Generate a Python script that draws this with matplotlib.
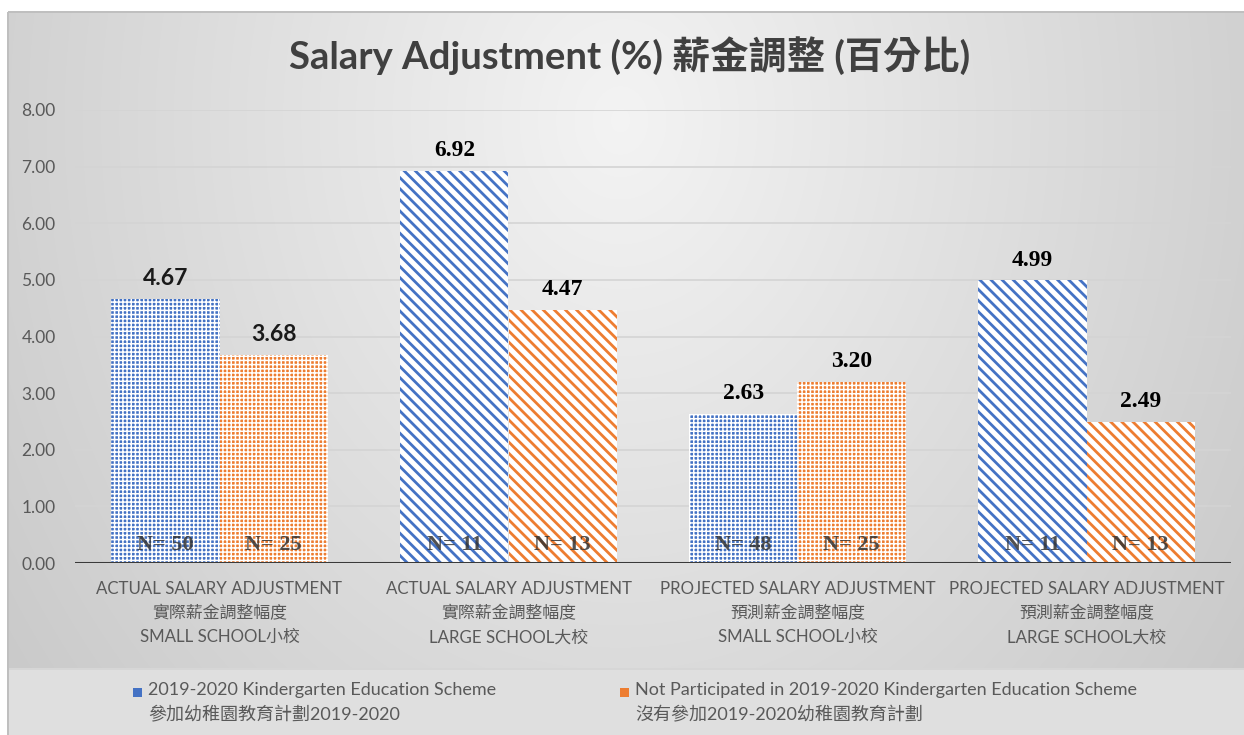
import numpy as np
import matplotlib
matplotlib.use("Agg")
import matplotlib.pyplot as plt
from matplotlib.patches import Rectangle

# ---------------- data ----------------
categories = [
    "ACTUAL SALARY ADJUSTMENT\n實際薪金調整幅度\nSMALL SCHOOL小校",
    "ACTUAL SALARY ADJUSTMENT\n實際薪金調整幅度\nLARGE SCHOOL大校",
    "PROJECTED SALARY ADJUSTMENT\n預測薪金調整幅度\nSMALL SCHOOL小校",
    "PROJECTED SALARY ADJUSTMENT\n預測薪金調整幅度\nLARGE SCHOOL大校",
]
school_size = ["small", "large", "small", "large"]
scheme_values = [4.67, 6.92, 2.63, 4.99]
not_scheme_values = [3.68, 4.47, 3.20, 2.49]
scheme_n = [50, 11, 48, 11]
not_scheme_n = [25, 13, 25, 13]
value_label_sans = [True, False, False, False]  # first group labels look sans
series_names = [
    "2019-2020 Kindergarten Education Scheme\n參加幼稚園教育計劃2019-2020",
    "Not Participated in 2019-2020 Kindergarten Education Scheme\n沒有參加2019-2020幼稚園教育計劃",
]
yticks = [0, 1, 2, 3, 4, 5, 6, 7, 8]
title = "Salary Adjustment (%) 薪金調整 (百分比)"

BLUE = "#4472c4"
ORANGE = "#ed7d31"
SANS = ["Lato", "Noto Sans CJK TC", "DejaVu Sans"]
SERIF = ["Liberation Serif", "DejaVu Serif"]

W, H = 1244, 735
fig = plt.figure(figsize=(W / 100, H / 100), dpi=100)

# ---------------- background (gradient chart area) ----------------
yy, xx = np.mgrid[0:H, 0:W]
r = np.sqrt(((xx - 620) / 650.0) ** 2 + ((yy - 120) / 800.0) ** 2)
v = 0.955 - 0.14 * r
img = np.dstack([v, v, v])
img[yy >= 670] = 0.875
img[(yy >= 668) & (yy < 670)] = 0.84
img[yy < 12] = 1.0
img[:, :8] = 1.0
img[(yy >= 11) & (yy < 13) & (xx >= 8)] = 0.75
img[(xx >= 7) & (xx < 9) & (yy >= 12)] = 0.75
bg = fig.add_axes([0, 0, 1, 1], zorder=-10)
bg.imshow(np.clip(img, 0, 1), extent=[0, W, H, 0], aspect="auto", interpolation="bilinear")
bg.set_xlim(0, W)
bg.set_ylim(H, 0)
bg.axis("off")

# ---------------- main axes ----------------
ax = fig.add_axes([75 / W, (H - 563) / H, (1231 - 75) / W, (563 - 110) / H])
ax.set_facecolor("none")
for s in ax.spines.values():
    s.set_visible(False)

x = np.arange(len(categories))
bw = 0.374


def draw_bar(xpos, val, color, kind):
    if kind == "small":
        hatch, hcol, face, hlw = "++++", "white", color, 1.1
    else:
        hatch, hcol, face, hlw = "\\\\\\", color, "white", 2.0
    with plt.rc_context({"hatch.linewidth": hlw}):
        b = ax.bar(xpos, val, width=bw, color=face, edgecolor=hcol,
                   linewidth=0, hatch=hatch, zorder=3)
    for p in b.patches:
        if hasattr(p, "set_hatch_linewidth"):
            p.set_hatch_linewidth(hlw)
    return b


for i in range(len(categories)):
    xb = x[i] - bw / 2
    xo = x[i] + bw / 2
    draw_bar(xb, scheme_values[i], BLUE, school_size[i])
    draw_bar(xo, not_scheme_values[i], ORANGE, school_size[i])
    for xp, val in ((xb, scheme_values[i]), (xo, not_scheme_values[i])):
        if value_label_sans[i]:
            ax.annotate(f"{val:.2f}", (xp, val), xytext=(0, 7), textcoords="offset points",
                        ha="center", va="bottom", fontsize=16.5, fontweight="bold",
                        family=SANS, color="#1a1a1a", zorder=5)
        else:
            ax.annotate(f"{val:.2f}", (xp, val), xytext=(0, 7), textcoords="offset points",
                        ha="center", va="bottom", fontsize=17, fontweight="bold",
                        family=SERIF, color="black", zorder=5)
    for xp, n in ((xb, scheme_n[i]), (xo, not_scheme_n[i])):
        ax.text(xp, 0.32, f"N= {n}", ha="center", va="center", fontsize=16,
                fontweight="bold", family=SERIF, color="#333333", alpha=0.85, zorder=5)

ax.set_xlim(-0.5, len(categories) - 0.5)
ax.set_ylim(0, 8)
ax.set_yticks(yticks)
ax.set_yticklabels([f"{t:.2f}" for t in yticks], family=SANS, fontsize=12.5, color="#595959")
ax.yaxis.grid(True, color="#d4d4d4", linewidth=1.2, zorder=0)
ax.set_axisbelow(True)
ax.axhline(0, color="#3a3a3a", linewidth=2.2, zorder=4)
ax.tick_params(axis="y", length=0, pad=14)
ax.tick_params(axis="x", length=0, pad=13)
ax.set_xticks(x)
ax.set_xticklabels(categories, family=SANS, fontsize=12.2, color="#595959", linespacing=1.62)

# ---------------- title ----------------
fig.text(630 / W, 1 - 56 / H, title, ha="center", va="center", fontsize=27.5,
         fontweight="bold", family=SANS, color="#404040")

# ---------------- legend ----------------
leg_x = [133, 620]
for sx, name, col in zip(leg_x, series_names, [BLUE, ORANGE]):
    fig.patches.append(Rectangle((sx / W, 1 - 697 / H), 9 / W, 9 / H,
                                 transform=fig.transFigure, facecolor=col,
                                 edgecolor="none"))
    fig.text((sx + 15) / W, 1 - 682 / H, name, ha="left", va="top", fontsize=13,
             family=SANS, color="#595959", linespacing=1.55)

fig.savefig("out.png", dpi=100)
